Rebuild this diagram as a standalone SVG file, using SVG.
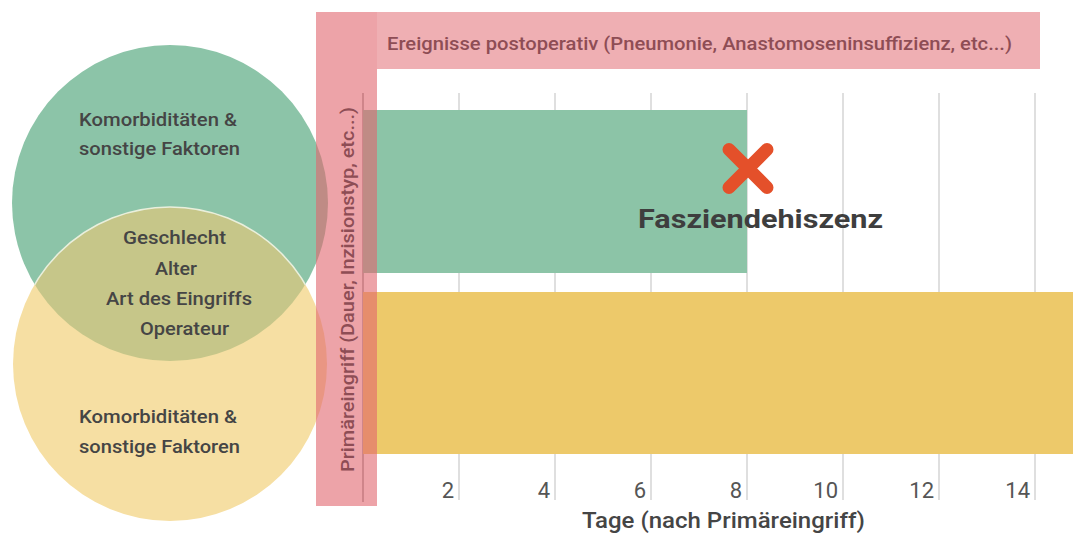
<svg xmlns="http://www.w3.org/2000/svg" width="1073" height="534" viewBox="0 0 1073 534">
  <defs>
    <style>
      .grid { stroke: #d4d4d4; stroke-width: 1.5; }
      .axis { stroke: #9a9a9a; stroke-width: 1.5; }
      .tick { font-family: Roboto, "Liberation Sans", sans-serif; font-size: 22px; fill: #555555; text-anchor: end; }
      .ctext { font-family: Roboto, "Liberation Sans", sans-serif; font-size: 19px; font-weight: 500; fill: #454545; }
      .ptext { font-family: Roboto, "Liberation Sans", sans-serif; font-size: 17.5px; font-weight: 500; fill: #8e4d55; }
      .pink { fill: #e1666e; }
    </style>
    <clipPath id="clipGreen">
      <circle cx="170" cy="203" r="158"/>
    </clipPath>
  </defs>
  <rect width="1073" height="534" fill="#ffffff"/>

  <g id="grid">
    <line class="grid" x1="459" y1="93" x2="459" y2="500"/>
    <line class="grid" x1="555" y1="93" x2="555" y2="500"/>
    <line class="grid" x1="651" y1="93" x2="651" y2="500"/>
    <line class="grid" x1="747" y1="93" x2="747" y2="500"/>
    <line class="grid" x1="843" y1="93" x2="843" y2="500"/>
    <line class="grid" x1="939" y1="93" x2="939" y2="500"/>
    <line class="grid" x1="1035" y1="93" x2="1035" y2="500"/>
    <line class="axis" x1="363" y1="93" x2="363" y2="502"/>
  </g>

  <g id="bar-green">
    <rect x="363" y="110" width="384" height="163" fill="#8cc4a7"/>
  </g>
  <g id="bar-yellow">
    <rect x="363" y="292" width="712" height="162" fill="#edc96a"/>
  </g>

  <g id="venn">
    <circle id="circle-green" cx="170" cy="203" r="158" fill="#8cc4a8"/>
    <circle id="circle-yellow" cx="170" cy="364" r="157" fill="#f6dfa3"/>
    <g clip-path="url(#clipGreen)">
      <circle cx="170" cy="364" r="157" fill="#c6c689" stroke="#e9efdc" stroke-width="1.5"/>
    </g>
  </g>

  <g id="primaereingriff">
    <rect class="pink" x="316" y="12" width="61" height="494" opacity="0.6"/>
  </g>
  <g id="ereignisse">
    <rect class="pink" x="377" y="12" width="663" height="57" opacity="0.52"/>
  </g>

  <g id="labels">
    <text class="ptext" x="387" y="50" textLength="625" lengthAdjust="spacingAndGlyphs">Ereignisse postoperativ (Pneumonie, Anastomoseninsuffizienz, etc...)</text>
    <text class="ptext" transform="translate(354,472) rotate(-90)" textLength="365" lengthAdjust="spacingAndGlyphs">Primäreingriff (Dauer, Inzisionstyp, etc...)</text>

    <text class="ctext" x="79" y="126" textLength="158" lengthAdjust="spacingAndGlyphs">Komorbiditäten &amp;</text>
    <text class="ctext" x="79" y="155" textLength="161" lengthAdjust="spacingAndGlyphs">sonstige Faktoren</text>

    <text class="ctext" x="123" y="244" textLength="103" lengthAdjust="spacingAndGlyphs">Geschlecht</text>
    <text class="ctext" x="155" y="275" textLength="42" lengthAdjust="spacingAndGlyphs">Alter</text>
    <text class="ctext" x="106" y="305" textLength="146" lengthAdjust="spacingAndGlyphs">Art des Eingriffs</text>
    <text class="ctext" x="140" y="335" textLength="89" lengthAdjust="spacingAndGlyphs">Operateur</text>

    <text class="ctext" x="79" y="423" textLength="158" lengthAdjust="spacingAndGlyphs">Komorbiditäten &amp;</text>
    <text class="ctext" x="79" y="453" textLength="161" lengthAdjust="spacingAndGlyphs">sonstige Faktoren</text>
  </g>

  <g id="event">
    <path d="M729 149.5 L767 187.5 M767 149.5 L729 187.5" stroke="#e4502a" stroke-width="13" stroke-linecap="round" fill="none"/>
    <text x="638" y="228" font-family="Roboto, 'Liberation Sans', sans-serif" font-size="26" font-weight="700" fill="#3e3e3e" textLength="245" lengthAdjust="spacingAndGlyphs">Fasziendehiszenz</text>
  </g>

  <g id="x-axis">
    <text class="tick" x="454" y="498">2</text>
    <text class="tick" x="550" y="498">4</text>
    <text class="tick" x="646" y="498">6</text>
    <text class="tick" x="742" y="498">8</text>
    <text class="tick" x="838" y="498">10</text>
    <text class="tick" x="934" y="498">12</text>
    <text class="tick" x="1030" y="498">14</text>
    <text x="582" y="528" font-family="Roboto, 'Liberation Sans', sans-serif" font-size="22" font-weight="500" fill="#454545" textLength="283" lengthAdjust="spacingAndGlyphs">Tage (nach Primäreingriff)</text>
  </g>
</svg>
